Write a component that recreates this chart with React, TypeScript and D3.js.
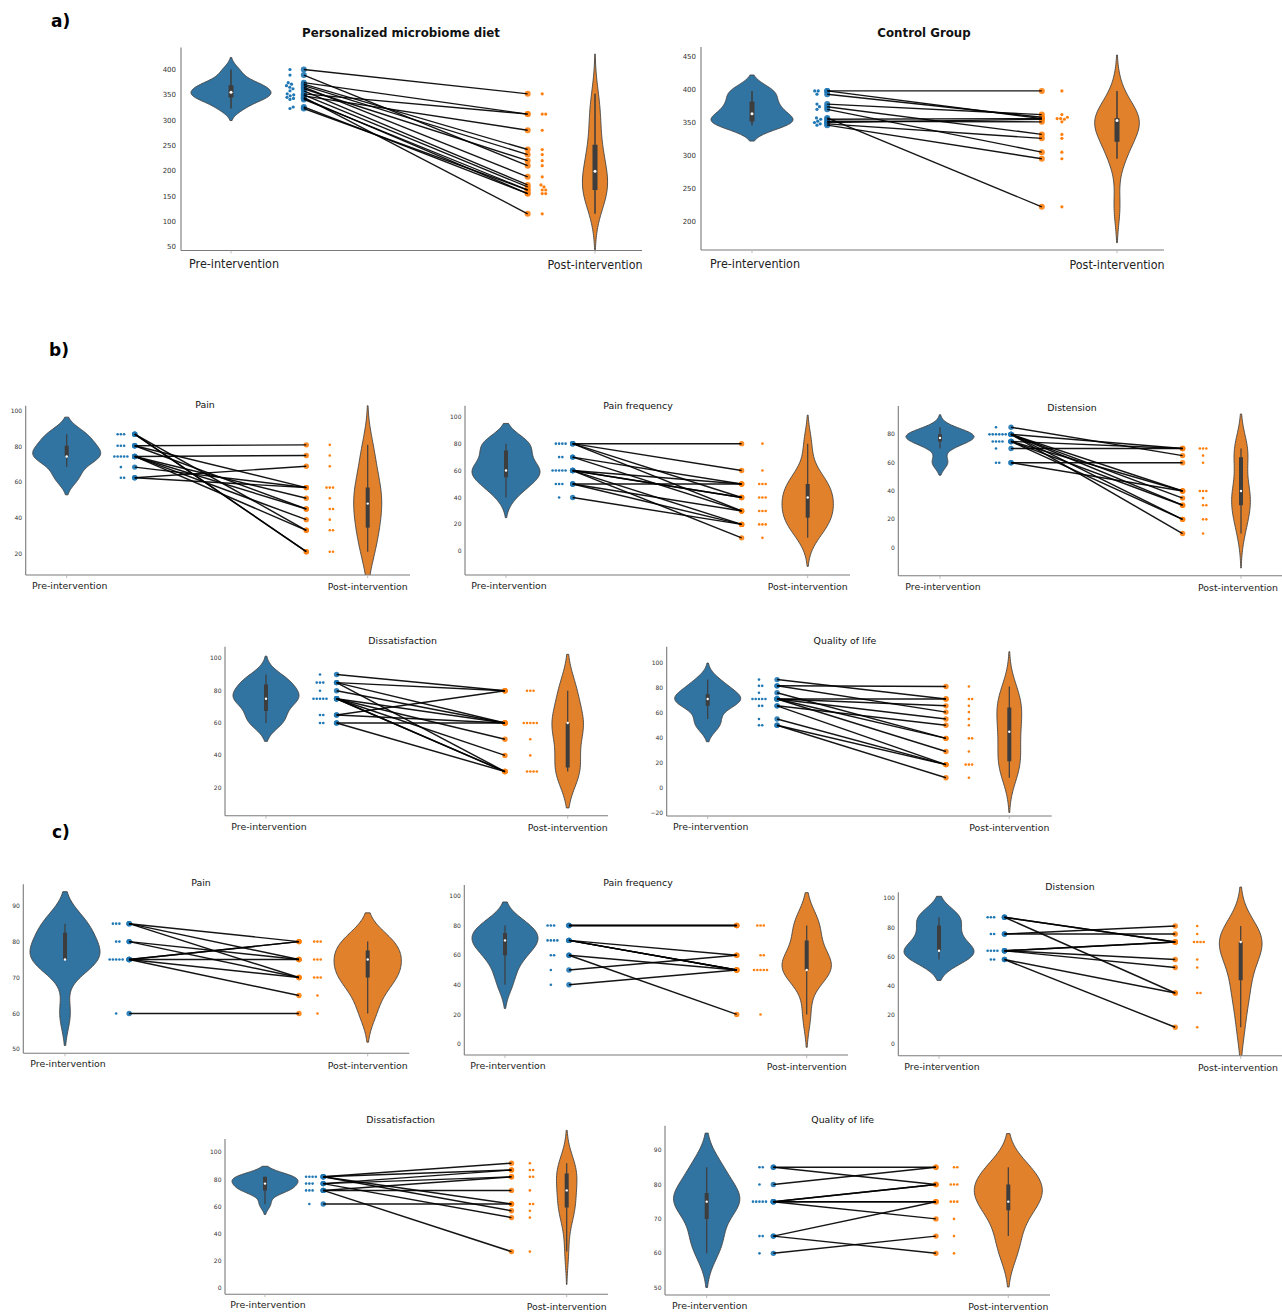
import React from "react";
import * as d3 from "d3";

// ---------------- DATA ----------------
const CATS = ["Pre-intervention", "Post-intervention"];
const GROUP_TITLES = ["Personalized microbiome diet", "Control Group"];
const SYMPTOMS = ["Pain", "Pain frequency", "Distension", "Dissatisfaction", "Quality of life"];
const SECTION_TAGS = ["a)", "b)", "c)"];

// a) total score, paired by index (pre[i] -> post[i])
const dietPre = [400, 389, 374, 371, 368, 365, 362, 358, 352, 350, 348, 345, 343, 341, 326, 323];
const dietPost = [352, 210, 312, 242, 232, 188, 220, 172, 312, 168, 280, 115, 155, 162, 155, 162];
const ctrlPre = [398, 398, 393, 378, 374, 370, 357, 355, 352, 350, 348, 346];
const ctrlPost = [398, 356, 358, 362, 332, 305, 222, 356, 351, 355, 326, 295];

// b) personalized diet, symptom scores
const bPainPre = [87, 87, 87, 80.5, 80.5, 80.5, 74.5, 74.5, 74.5, 74.5, 74.5, 68.5, 62.5, 62.5];
const bPainPost = [21, 21, 33, 81, 45, 57, 75, 51, 45, 39, 33, 57, 69, 57];
const bFreqPre = [80, 80, 80, 80, 70, 70, 60, 60, 60, 60, 60, 50, 50, 50, 40];
const bFreqPost = [80, 60, 40, 30, 50, 30, 50, 40, 40, 20, 10, 50, 30, 20, 20];
const bDistPre = [85, 80, 80, 80, 80, 80, 80, 75, 75, 75, 75, 70, 60, 60];
const bDistPost = [65, 70, 40, 35, 30, 20, 10, 70, 40, 30, 20, 70, 60, 40];
const bDisPre = [90, 85, 85, 85, 80, 75, 75, 75, 75, 75, 65, 65, 60, 60];
const bDisPost = [80, 80, 60, 30, 60, 60, 50, 40, 30, 30, 80, 60, 60, 30];
const bQolPre = [86.5, 81.5, 81.5, 76, 71, 71, 71, 71, 71, 65.5, 65.5, 55, 50, 50];
const bQolPost = [71, 81, 60.5, 39.5, 71, 65.5, 55, 39.5, 29, 50, 18.5, 18.5, 18.5, 8];

// c) control group, symptom scores
const cPainPre = [85, 85, 85, 80, 80, 75, 75, 75, 75, 75, 60];
const cPainPost = [80, 75, 70, 75, 70, 80, 80, 75, 70, 65, 60];
const cFreqPre = [80, 80, 80, 70, 70, 70, 70, 60, 60, 50, 40];
const cFreqPost = [80, 80, 80, 60, 50, 50, 50, 50, 20, 60, 50];
const cDistPre = [87, 87, 87, 75.5, 75.5, 64, 64, 64, 64, 58, 58];
const cDistPost = [70, 70, 35, 81, 75.5, 70, 70, 58, 52.5, 35, 11.5];
const cDisPre = [82, 82, 82, 82, 77, 77, 77, 72, 72, 72, 62];
const cDisPost = [92, 87, 62, 57, 87, 82, 52, 82, 72, 27, 62];
const cQolPre = [85, 85, 80, 75, 75, 75, 75, 75, 65, 65, 60];
const cQolPost = [85, 80, 85, 80, 80, 75, 75, 70, 75, 60, 65];

// tick labels
const ticksDiet = [50, 100, 150, 200, 250, 300, 350, 400];
const ticksCtrl = [200, 250, 300, 350, 400, 450];
const ticks20to100 = [20, 40, 60, 80, 100];
const ticks0to100 = [0, 20, 40, 60, 80, 100];
const ticks0to80 = [0, 20, 40, 60, 80];
const ticksM20to100 = [-20, 0, 20, 40, 60, 80, 100];
const ticks50to90 = [50, 60, 70, 80, 90];

// ---------------- LAYOUT / STYLE ----------------
type Layout = {
  left: number; right: number; top: number; bottom: number;
  lo: number; hi: number; cx0: number; cx1: number;
  fr: [number, number, number, number]; maxHalf: number;
  titleX: number; titleY: number;
};
type Style = {
  tickFont: number; tickGap: number; catFont: number; catW: [number, number] | null;
  catDy: [number, number]; titleFont: number; titleWeight: string;
  swR: number; swGap: number; pairR: number; lineW: number; boxW: number; whiskW: number; medR: number;
};

const BIG: Style = {
  tickFont: 7, tickGap: 5, catFont: 12.3, catW: [90, 95], catDy: [17.5, 18.8],
  titleFont: 11.8, titleWeight: "bold", swR: 1.6, swGap: 0.3, pairR: 3, lineW: 1.35,
  boxW: 5, whiskW: 1.5, medR: 1.5,
};
const SMALL: Style = {
  tickFont: 6, tickGap: 3.5, catFont: 9.4, catW: null, catDy: [13.8, 15.3],
  titleFont: 9.4, titleWeight: "normal", swR: 1.3, swGap: 0.45, pairR: 2.7, lineW: 1.45,
  boxW: 4, whiskW: 1.2, medR: 1.2,
};

const PAGE_W = 1282;

const L_DIET: Layout = { left: 181, right: 642, top: 47.5, bottom: 250.5, lo: 42.5, hi: 443.5, cx0: 231, cx1: 595, fr: [0.162, 0.2, 0.815, 0.855], maxHalf: 40, titleX: 401, titleY: 32.5 };
const L_CTRL: Layout = { left: 701, right: 1164, top: 47, bottom: 250, lo: 156.4, hi: 464.7, cx0: 752, cx1: 1117, fr: [0.178, 0.206, 0.794, 0.849], maxHalf: 41, titleX: 924, titleY: 32.5 };

const L_BPAIN: Layout = { left: 25.7, right: 410, top: 405.7, bottom: 575, lo: 7.9, hi: 103, cx0: 66.7, cx1: 367.7, fr: [0.18, 0.226, 0.796, 0.874], maxHalf: 34, titleX: 205, titleY: 405 };
const L_BFREQ: Layout = { left: 465, right: 850, top: 405.7, bottom: 575, lo: -17.6, hi: 108.2, cx0: 506, cx1: 807.7, fr: [0.176, 0.221, 0.781, 0.85], maxHalf: 34, titleX: 638, titleY: 406 };
const L_BDIST: Layout = { left: 898.3, right: 1282, top: 406, bottom: 575.7, lo: -19.75, hi: 100, cx0: 940, cx1: 1241, fr: [0.186, 0.236, 0.806, 0.874], maxHalf: 34, titleX: 1072, titleY: 408 };
const L_BDIS: Layout = { left: 225, right: 608, top: 646.7, bottom: 815.7, lo: 2.7, hi: 107.2, cx0: 266, cx1: 567.7, fr: [0.179, 0.234, 0.792, 0.876], maxHalf: 33, titleX: 402.7, titleY: 641 };
const L_BQOL: Layout = { left: 666.7, right: 1051.7, top: 646.7, bottom: 816, lo: -22.6, hi: 112.8, cx0: 707.7, cx1: 1009.3, fr: [0.17, 0.23, 0.79, 0.866], maxHalf: 33, titleX: 845, titleY: 641 };

const L_CPAIN: Layout = { left: 23.3, right: 409.3, top: 884.3, bottom: 1053.3, lo: 48.9, hi: 95.96, cx0: 65, cx1: 367.7, fr: [0.169, 0.212, 0.773, 0.834], maxHalf: 35, titleX: 201, titleY: 883 };
const L_CFREQ: Layout = { left: 464.3, right: 848, top: 885, bottom: 1055, lo: -7.4, hi: 107.4, cx0: 505, cx1: 806.7, fr: [0.152, 0.212, 0.768, 0.847], maxHalf: 33, titleX: 638, titleY: 883 };
const L_CDIST: Layout = { left: 898.3, right: 1282, top: 892.3, bottom: 1055.7, lo: -8, hi: 104.1, cx0: 939, cx1: 1240.7, fr: [0.172, 0.217, 0.783, 0.856], maxHalf: 35, titleX: 1070, titleY: 887 };
const L_CDIS: Layout = { left: 225, right: 608, top: 1139, bottom: 1294.3, lo: -4.4, hi: 109.8, cx0: 265, cx1: 566.7, fr: [0.147, 0.193, 0.817, 0.878], maxHalf: 33, titleX: 400.7, titleY: 1120 };
const L_CQOL: Layout = { left: 665, right: 1050, top: 1125.7, bottom: 1295, lo: 47.9, hi: 97.06, cx0: 706.7, cx1: 1008.3, fr: [0.175, 0.221, 0.76, 0.82], maxHalf: 34, titleX: 842.7, titleY: 1119.3 };

const VIOLIN_COLORS = ["#3274a1", "#e1812c"];
const POINT_COLORS = ["#1f77b4", "#ff7f0e"];
const FONT = "DejaVu Sans";

// ---------------- helpers ----------------
type KP = { v: number; d: number };
function kde(values: number[]): KP[] {
  const n = values.length;
  const sd = d3.deviation(values) || 1;
  const bw = sd * Math.pow(n, -0.2);
  const lo = (d3.min(values) as number) - 2 * bw;
  const hi = (d3.max(values) as number) + 2 * bw;
  const grid = d3.range(100).map((i) => lo + ((hi - lo) * i) / 99);
  return grid.map((g) => ({
    v: g,
    d: (d3.mean(values, (x) => Math.exp(-0.5 * ((g - x) / bw) ** 2)) as number) / (bw * Math.sqrt(2 * Math.PI)),
  }));
}

function boxStats(values: number[]) {
  const s = values.slice().sort((a, b) => a - b);
  const q1 = d3.quantileSorted(s, 0.25) as number;
  const q2 = d3.quantileSorted(s, 0.5) as number;
  const q3 = d3.quantileSorted(s, 0.75) as number;
  const lim = 1.5 * (q3 - q1);
  const wLo = d3.min(s.filter((v) => v >= q1 - lim)) as number;
  const wHi = d3.max(s.filter((v) => v <= q3 + lim)) as number;
  return { q1, q2, q3, wLo, wHi };
}

function swarm(values: number[], y: (v: number) => number, cx: number, r: number, gap: number) {
  const dd = 2 * r + gap;
  const placed: { x: number; y: number }[] = [];
  const sorted = values.slice().sort((a, b) => a - b);
  const step = 0.25;
  for (const v of sorted) {
    const py = y(v);
    for (let k = 0; k < 800; k++) {
      const off = (k % 2 === 1 ? 1 : -1) * Math.ceil(k / 2) * step;
      const px = cx + off;
      if (placed.every((p) => (p.x - px) ** 2 + (p.y - py) ** 2 >= dd * dd - 1e-6)) {
        placed.push({ x: px, y: py });
        break;
      }
    }
  }
  return placed;
}

// ---------------- panel ----------------
function Panel({ id, pre, post, ticks, title, L, S }: { id: string; pre: number[]; post: number[]; ticks: number[]; title: string; L: Layout; S: Style }) {
  const y = d3.scaleLinear().domain([L.lo, L.hi]).range([L.bottom, L.top]);
  const x = d3.scaleLinear().domain([0, 1]).range([L.cx0, L.cx1]);
  const dens = [kde(pre), kde(post)];
  const maxD = Math.max(d3.max(dens[0], (d) => d.d) as number, d3.max(dens[1], (d) => d.d) as number);
  const w = d3.scaleLinear().domain([0, maxD]).range([0, L.maxHalf]);
  const groups = [pre, post];

  const swarmX = [x(L.fr[0]), x(L.fr[3])];
  const pairX = [x(L.fr[1]), x(L.fr[2])];
  const clipId = "clip-" + id;

  return (
    <g>
      <defs>
        <clipPath id={clipId}>
          <rect x={L.left - 5} y={L.top - 40} width={L.right - L.left + 10} height={L.bottom - L.top + 40} />
        </clipPath>
      </defs>
      {/* violins */}
      <g clipPath={`url(#${clipId})`}>
        {groups.map((vals, gi) => {
          const cx = x(gi);
          const area = d3
            .area<KP>()
            .x0((d) => cx - w(d.d))
            .x1((d) => cx + w(d.d))
            .y((d) => y(d.v));
          const b = boxStats(vals);
          return (
            <g key={"v" + gi}>
              <path d={area(dens[gi]) || ""} fill={VIOLIN_COLORS[gi]} stroke="#444" strokeWidth={0.9} />
              <line x1={cx} x2={cx} y1={y(b.wLo)} y2={y(b.wHi)} stroke="#3d3d3d" strokeWidth={S.whiskW} />
              <line x1={cx} x2={cx} y1={y(b.q1)} y2={y(b.q3)} stroke="#3d3d3d" strokeWidth={S.boxW} />
              <circle cx={cx} cy={y(b.q2)} r={S.medR} fill="white" />
            </g>
          );
        })}
      </g>
      {/* swarms */}
      {groups.map((vals, gi) =>
        swarm(vals, y, swarmX[gi], S.swR, S.swGap).map((p, i) => (
          <circle key={"s" + gi + "-" + i} cx={p.x} cy={p.y} r={S.swR} fill={POINT_COLORS[gi]} />
        ))
      )}
      {/* paired points */}
      {groups.map((vals, gi) =>
        vals.map((v, i) => (
          <circle key={"p" + gi + "-" + i} cx={pairX[gi]} cy={y(v)} r={S.pairR} fill={POINT_COLORS[gi]} fillOpacity={0.9} />
        ))
      )}
      {/* connecting lines */}
      {pre.map((v, i) => (
        <line key={"l" + i} x1={pairX[0]} y1={y(v)} x2={pairX[1]} y2={y(post[i])} stroke="#000" strokeWidth={S.lineW} strokeOpacity={0.92} />
      ))}
      {/* axes */}
      <line x1={L.left} x2={L.left} y1={L.top} y2={L.bottom} stroke="#7a7a7a" strokeWidth={1.1} />
      <line x1={L.left} x2={L.right} y1={L.bottom} y2={L.bottom} stroke="#7a7a7a" strokeWidth={1.1} />
      {ticks.map((t) => (
        <text key={"t" + t} x={L.left - S.tickGap} y={y(t)} dy="0.35em" textAnchor="end" fontSize={S.tickFont} fontFamily={FONT} fill="#333">
          {t < 0 ? "\u2212" + Math.abs(t) : String(t)}
        </text>
      ))}
      {CATS.map((c, gi) => {
        const half = S.catW ? S.catW[gi] / 2 : 42;
        const lx = Math.min(x(gi) + (gi === 0 ? 3 : 0), PAGE_W - 2 - half);
        const extra = S.catW ? { textLength: S.catW[gi], lengthAdjust: "spacingAndGlyphs" } : {};
        return (
          <g key={"c" + gi}>
            <line x1={x(gi)} x2={x(gi)} y1={L.bottom} y2={L.bottom + 3} stroke="#aaa" strokeWidth={0.8} />
            <text
              x={lx}
              y={L.bottom + S.catDy[gi]}
              textAnchor="middle"
              fontSize={S.catFont}
              fontFamily={FONT}
              fill="#222"
              {...(extra as any)}
            >
              {c}
            </text>
          </g>
        );
      })}
      <text x={L.titleX} y={L.titleY} dy="0.36em" textAnchor="middle" fontSize={S.titleFont} fontWeight={S.titleWeight} fontFamily={FONT} fill="#111">
        {title}
      </text>
    </g>
  );
}

export default function App() {
  return (
    <svg
      width={1282}
      height={1313}
      style={{ position: "absolute", left: 0, top: 0, display: "block", background: "#fff" }}
    >
      <rect x={0} y={0} width={1282} height={1313} fill="#fff" />
      <text x={51} y={27} fontSize={17} fontWeight="bold" fontFamily={FONT} fill="#000">{SECTION_TAGS[0]}</text>
      <text x={49} y={356} fontSize={17} fontWeight="bold" fontFamily={FONT} fill="#000">{SECTION_TAGS[1]}</text>
      <text x={52} y={838} fontSize={17} fontWeight="bold" fontFamily={FONT} fill="#000">{SECTION_TAGS[2]}</text>

      <Panel id="diet" pre={dietPre} post={dietPost} ticks={ticksDiet} title={GROUP_TITLES[0]} L={L_DIET} S={BIG} />
      <Panel id="ctrl" pre={ctrlPre} post={ctrlPost} ticks={ticksCtrl} title={GROUP_TITLES[1]} L={L_CTRL} S={BIG} />

      <Panel id="bpain" pre={bPainPre} post={bPainPost} ticks={ticks20to100} title={SYMPTOMS[0]} L={L_BPAIN} S={SMALL} />
      <Panel id="bfreq" pre={bFreqPre} post={bFreqPost} ticks={ticks0to100} title={SYMPTOMS[1]} L={L_BFREQ} S={SMALL} />
      <Panel id="bdist" pre={bDistPre} post={bDistPost} ticks={ticks0to80} title={SYMPTOMS[2]} L={L_BDIST} S={SMALL} />
      <Panel id="bdis" pre={bDisPre} post={bDisPost} ticks={ticks20to100} title={SYMPTOMS[3]} L={L_BDIS} S={SMALL} />
      <Panel id="bqol" pre={bQolPre} post={bQolPost} ticks={ticksM20to100} title={SYMPTOMS[4]} L={L_BQOL} S={SMALL} />

      <Panel id="cpain" pre={cPainPre} post={cPainPost} ticks={ticks50to90} title={SYMPTOMS[0]} L={L_CPAIN} S={SMALL} />
      <Panel id="cfreq" pre={cFreqPre} post={cFreqPost} ticks={ticks0to100} title={SYMPTOMS[1]} L={L_CFREQ} S={SMALL} />
      <Panel id="cdist" pre={cDistPre} post={cDistPost} ticks={ticks0to100} title={SYMPTOMS[2]} L={L_CDIST} S={SMALL} />
      <Panel id="cdis" pre={cDisPre} post={cDisPost} ticks={ticks0to100} title={SYMPTOMS[3]} L={L_CDIS} S={SMALL} />
      <Panel id="cqol" pre={cQolPre} post={cQolPost} ticks={ticks50to90} title={SYMPTOMS[4]} L={L_CQOL} S={SMALL} />
    </svg>
  );
}
